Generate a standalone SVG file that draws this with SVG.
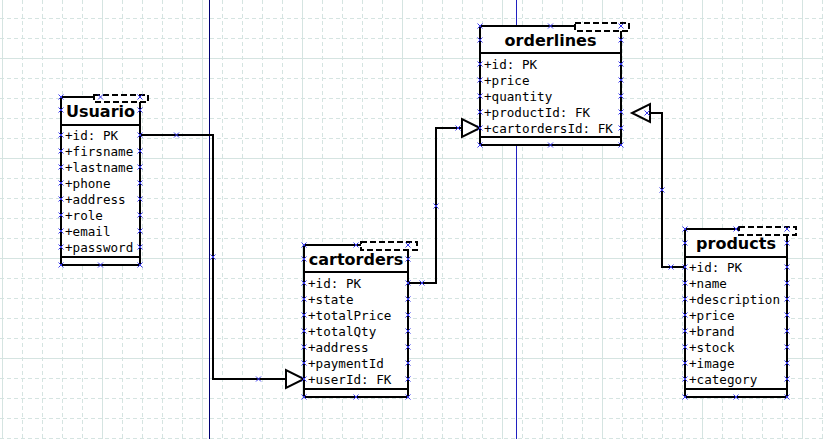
<svg xmlns="http://www.w3.org/2000/svg" xmlns:xlink="http://www.w3.org/1999/xlink" width="823" height="439" viewBox="0 0 823 439">
<style>
.gd{stroke:#d5e4e1;stroke-width:1;stroke-dasharray:4,3;fill:none}
.gs{stroke:#d5e4e1;stroke-width:1;fill:none}
.box{fill:#fff;stroke:#000;stroke-width:2}
.ln{stroke:#000;stroke-width:2;fill:none}
.tpl{fill:#fff;stroke:#000;stroke-width:2;stroke-dasharray:6,3}
.ttl{font-family:"DejaVu Sans","Liberation Sans",sans-serif;font-weight:bold;font-size:16px;text-anchor:middle;fill:#000}
.att{font-family:"DejaVu Sans Mono","Liberation Mono",monospace;font-size:12.6px;fill:#000}
.xm{stroke:#3a3aee;stroke-width:1;fill:none}
.arr{fill:#fff;stroke:#000;stroke-width:2;stroke-linejoin:miter}
</style>
<defs>
<path id="xm" class="xm" d="M-2.5,-2.5L2.5,2.5M-2.5,2.5L2.5,-2.5"/>
</defs>
<rect width="823" height="439" fill="#fff"/>
<g id="grid">
<path class="gd" d="M22.5,0V439M42.5,0V439M62.5,0V439M82.5,0V439M122.5,0V439M142.5,0V439M162.5,0V439M182.5,0V439M222.5,0V439M242.5,0V439M262.5,0V439M282.5,0V439M322.5,0V439M342.5,0V439M362.5,0V439M382.5,0V439M422.5,0V439M442.5,0V439M462.5,0V439M482.5,0V439M522.5,0V439M542.5,0V439M562.5,0V439M582.5,0V439M622.5,0V439M642.5,0V439M662.5,0V439M682.5,0V439M722.5,0V439M742.5,0V439M762.5,0V439M782.5,0V439M822.5,0V439"/>
<path class="gd" d="M0,18.5H823M0,38.5H823M0,78.5H823M0,98.5H823M0,118.5H823M0,138.5H823M0,178.5H823M0,198.5H823M0,218.5H823M0,238.5H823M0,278.5H823M0,298.5H823M0,318.5H823M0,338.5H823M0,378.5H823M0,398.5H823M0,418.5H823M0,438.5H823"/>
<path class="gs" d="M2.5,0V439M102.5,0V439M202.5,0V439M302.5,0V439M402.5,0V439M502.5,0V439M602.5,0V439M702.5,0V439M802.5,0V439M0,58.5H823M0,158.5H823M0,258.5H823M0,358.5H823"/>
</g>
<g id="guides">
<path d="M209.5,0V439" stroke="#000070" stroke-width="1"/>
<path d="M516.5,0V439" stroke="#2020c0" stroke-width="1"/>
</g>
<g id="connectors">
<path class="ln" d="M140,135H213V379H286"/>
<polygon class="arr" points="286,370 286,388 304,379"/>
<path class="ln" d="M408,283H436V128H462"/>
<polygon class="arr" points="462,119 462,137 480,128"/>
<path class="ln" d="M685,267H662V113H650"/>
<polygon class="arr" points="650,104 650,122 632,113"/>
<use href="#xm" x="176.5" y="135"/>
<use href="#xm" x="213" y="257"/>
<use href="#xm" x="258.5" y="379"/>
<use href="#xm" x="422" y="283"/>
<use href="#xm" x="436" y="206"/>
<use href="#xm" x="458" y="128"/>
<use href="#xm" x="671" y="267"/>
<use href="#xm" x="662" y="190"/>
<use href="#xm" x="647" y="113"/>
</g>
<g id="usuario">
<rect class="box" x="61" y="97" width="79" height="168"/>
<path class="ln" d="M61,125H140M61,257H140"/>
<rect class="tpl" x="94" y="95" width="54" height="7"/>
<text class="ttl" x="100.5" y="116.5">Usuario</text>
<text class="att" x="65" y="139.5">+id: PK</text>
<text class="att" x="65" y="155.5">+firsname</text>
<text class="att" x="65" y="171.5">+lastname</text>
<text class="att" x="65" y="187.5">+phone</text>
<text class="att" x="65" y="203.5">+address</text>
<text class="att" x="65" y="219.5">+role</text>
<text class="att" x="65" y="235.5">+email</text>
<text class="att" x="65" y="251.5">+password</text>
<use href="#xm" x="61" y="97"/><use href="#xm" x="100.5" y="97"/><use href="#xm" x="140" y="97"/>
<use href="#xm" x="61" y="110"/><use href="#xm" x="140" y="110"/>
<use href="#xm" x="61" y="135"/><use href="#xm" x="140" y="135"/>
<use href="#xm" x="61" y="151"/><use href="#xm" x="140" y="151"/>
<use href="#xm" x="61" y="167"/><use href="#xm" x="140" y="167"/>
<use href="#xm" x="61" y="183"/><use href="#xm" x="140" y="183"/>
<use href="#xm" x="61" y="199"/><use href="#xm" x="140" y="199"/>
<use href="#xm" x="61" y="215"/><use href="#xm" x="140" y="215"/>
<use href="#xm" x="61" y="231"/><use href="#xm" x="140" y="231"/>
<use href="#xm" x="61" y="247"/><use href="#xm" x="140" y="247"/>
<use href="#xm" x="61" y="265"/><use href="#xm" x="100.5" y="265"/><use href="#xm" x="140" y="265"/>
</g>
<g id="orderlines">
<rect class="box" x="480" y="26" width="141" height="119"/>
<path class="ln" d="M480,53H621M480,137H621"/>
<rect class="tpl" x="575" y="23" width="54" height="8"/>
<text class="ttl" x="550.5" y="45.5">orderlines</text>
<text class="att" x="484" y="68.5">+id: PK</text>
<text class="att" x="484" y="84.5">+price</text>
<text class="att" x="484" y="100.5">+quantity</text>
<text class="att" x="484" y="116.5">+productId: FK</text>
<text class="att" x="484" y="132.5">+cartordersId: FK</text>
<use href="#xm" x="480" y="26"/><use href="#xm" x="550.5" y="26"/><use href="#xm" x="621" y="26"/>
<use href="#xm" x="480" y="40"/><use href="#xm" x="621" y="40"/>
<use href="#xm" x="480" y="64"/><use href="#xm" x="621" y="64"/>
<use href="#xm" x="480" y="80"/><use href="#xm" x="621" y="80"/>
<use href="#xm" x="480" y="96"/><use href="#xm" x="621" y="96"/>
<use href="#xm" x="480" y="112"/><use href="#xm" x="621" y="112"/>
<use href="#xm" x="480" y="128"/><use href="#xm" x="621" y="128"/>
<use href="#xm" x="480" y="145"/><use href="#xm" x="550.5" y="145"/><use href="#xm" x="621" y="145"/>
</g>
<g id="cartorders">
<rect class="box" x="304" y="245" width="104" height="152"/>
<path class="ln" d="M304,272H408M304,389H408"/>
<rect class="tpl" x="361" y="242" width="56" height="8"/>
<text class="ttl" x="356" y="264.5">cartorders</text>
<text class="att" x="308" y="287.5">+id: PK</text>
<text class="att" x="308" y="303.5">+state</text>
<text class="att" x="308" y="319.5">+totalPrice</text>
<text class="att" x="308" y="335.5">+totalQty</text>
<text class="att" x="308" y="351.5">+address</text>
<text class="att" x="308" y="367.5">+paymentId</text>
<text class="att" x="308" y="383.5">+userId: FK</text>
<use href="#xm" x="304" y="245"/><use href="#xm" x="356" y="245"/><use href="#xm" x="408" y="245"/>
<use href="#xm" x="304" y="259"/><use href="#xm" x="408" y="259"/>
<use href="#xm" x="304" y="283"/><use href="#xm" x="408" y="283"/>
<use href="#xm" x="304" y="299"/><use href="#xm" x="408" y="299"/>
<use href="#xm" x="304" y="315"/><use href="#xm" x="408" y="315"/>
<use href="#xm" x="304" y="331"/><use href="#xm" x="408" y="331"/>
<use href="#xm" x="304" y="347"/><use href="#xm" x="408" y="347"/>
<use href="#xm" x="304" y="363"/><use href="#xm" x="408" y="363"/>
<use href="#xm" x="304" y="379"/><use href="#xm" x="408" y="379"/>
<use href="#xm" x="304" y="397"/><use href="#xm" x="356" y="397"/><use href="#xm" x="408" y="397"/>
</g>
<g id="products">
<rect class="box" x="685" y="229" width="102" height="168"/>
<path class="ln" d="M685,257H787M685,389H787"/>
<rect class="tpl" x="739" y="227" width="57" height="8"/>
<text class="ttl" x="736" y="248.5">products</text>
<text class="att" x="689" y="271.5">+id: PK</text>
<text class="att" x="689" y="287.5">+name</text>
<text class="att" x="689" y="303.5">+description</text>
<text class="att" x="689" y="319.5">+price</text>
<text class="att" x="689" y="335.5">+brand</text>
<text class="att" x="689" y="351.5">+stock</text>
<text class="att" x="689" y="367.5">+image</text>
<text class="att" x="689" y="383.5">+category</text>
<use href="#xm" x="685" y="229"/><use href="#xm" x="736" y="229"/><use href="#xm" x="787" y="229"/>
<use href="#xm" x="685" y="243"/><use href="#xm" x="787" y="243"/>
<use href="#xm" x="685" y="267"/><use href="#xm" x="787" y="267"/>
<use href="#xm" x="685" y="283"/><use href="#xm" x="787" y="283"/>
<use href="#xm" x="685" y="299"/><use href="#xm" x="787" y="299"/>
<use href="#xm" x="685" y="315"/><use href="#xm" x="787" y="315"/>
<use href="#xm" x="685" y="331"/><use href="#xm" x="787" y="331"/>
<use href="#xm" x="685" y="347"/><use href="#xm" x="787" y="347"/>
<use href="#xm" x="685" y="363"/><use href="#xm" x="787" y="363"/>
<use href="#xm" x="685" y="379"/><use href="#xm" x="787" y="379"/>
<use href="#xm" x="685" y="397"/><use href="#xm" x="736" y="397"/><use href="#xm" x="787" y="397"/>
</g>
</svg>
